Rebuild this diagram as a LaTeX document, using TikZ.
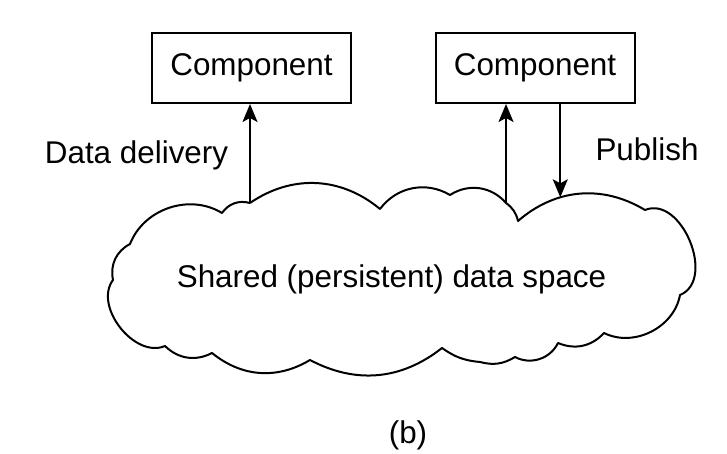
\documentclass[tikz,border=0pt]{standalone}
\usepackage{fontspec}
\setmainfont{Liberation Sans}
\usetikzlibrary{arrows.meta}

\tikzset{
  comp/.style={draw, line width=2pt, minimum width=199pt, minimum height=70pt, inner sep=0pt},
  flow/.style={line width=1.6pt, -{Stealth[length=18pt,width=15pt,inset=4pt]}},
  cloudline/.style={line width=2pt, line join=round},
}

\begin{document}
\begin{tikzpicture}[x=1pt,y=1pt, every node/.style={font=\fontsize{31.4}{38}\selectfont}]
  \useasboundingbox (0,0) rectangle (727,454);
  % components
  \node[comp] (lcomp) at (251.5,386) {Component};
  \node[comp] (rcomp) at (535,386) {Component};
  % cloud
  \draw[cloudline] (250,251) coordinate (dl)
    to[bend left=37] (380,245)
    to[bend left=42] (450,259)
    to[bend left=41] (506,251) coordinate (rd)
    to[bend left=20] (518,233)
    to[bend left=36] coordinate[pos=0.35] (pub) (645,244)
    to[bend left=90,looseness=1.1] (680,159)
    to[bend left=53] (604,121)
    to[bend left=35] (558,111)
    to[bend left=46] (515,97)
    to[bend left=23] (480,92)
    to[bend left=15] (442,106)
    to[bend left=33] (310,94)
    to[bend left=35] (212,101)
    to[bend left=36] (165,108)
    to[bend left=75] (113,174)
    to[bend left=37] (130,210)
    to[bend left=50] (222,241)
    to[bend left=35] (250,251);
  % arrows
  \draw[flow] (dl) -- (dl |- lcomp.south);
  \draw[flow] (rd) -- (rd |- rcomp.south);
  \draw[flow] (pub |- rcomp.south) -- (pub);
  % labels
  \node[anchor=base] (dlabel) at (136.5,290) {Data delivery};
  \node[anchor=base] (plabel) at (647,293) {Publish};
  \node[anchor=base] (space) at (391.5,166) {Shared (persistent) data space};
  \node[anchor=base] (cap) at (408,10.6) {(b)};
\end{tikzpicture}
\end{document}
